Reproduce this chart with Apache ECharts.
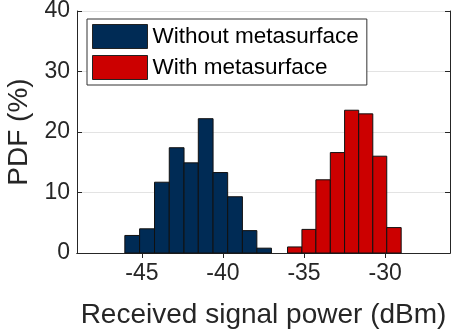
<!DOCTYPE html>
<html>
<head>
<meta charset="utf-8">
<script src="https://cdn.jsdelivr.net/npm/echarts@6/dist/echarts.min.js"></script>
<style>
  html, body { margin: 0; padding: 0; background: #fff; }
  #chart { width: 455px; height: 331px; }
</style>
</head>
<body>
<div id="chart"></div>
<script>
// bin edges (dBm) and PDF values (%)
var blueEdges = [-46.05, -45.14, -44.22, -43.31, -42.40, -41.52, -40.61, -39.71, -38.80, -37.91, -37.01];
var blueValues = [2.9, 4.0, 11.7, 17.4, 14.9, 22.2, 13.3, 9.3, 3.7, 0.8];
var redEdges = [-36.02, -35.13, -34.27, -33.38, -32.50, -31.63, -30.76, -29.90, -29.01];
var redValues = [1.0, 3.9, 12.1, 16.6, 23.6, 23.0, 16.0, 4.2];
var xTicks = [-45, -40, -35, -30];
var seriesNames = ['Without metasurface', 'With metasurface'];

var textColor = '#262626';
var font = 'Liberation Sans';

function toBins(edges, values) {
  var out = [];
  for (var i = 0; i < values.length; i++) {
    out.push([edges[i], edges[i + 1], values[i]]);
  }
  return out;
}

function renderBin(params, api) {
  var p0 = api.coord([api.value(0), api.value(2)]);
  var p1 = api.coord([api.value(1), 0]);
  return {
    type: 'rect',
    shape: { x: p0[0], y: p0[1], width: p1[0] - p0[0], height: p1[1] - p0[1] },
    style: api.style({ stroke: '#111', lineWidth: 1 })
  };
}

var chart = echarts.init(document.getElementById('chart'), null, { renderer: 'canvas' });

var option = {
  animation: false,
  textStyle: { fontFamily: font, color: textColor },
  grid: { left: 77, right: 5, top: 11, bottom: 78, outerBoundsMode: 'none', containLabel: false },
  legend: {
    left: 87, top: 19,
    orient: 'vertical',
    itemWidth: 55, itemHeight: 24, itemGap: 6,
    padding: [5, 8, 5, 5],
    backgroundColor: '#fff',
    borderColor: '#333', borderWidth: 1,
    borderRadius: 0,
    icon: 'rect',
    itemStyle: { borderColor: '#222', borderWidth: 1 },
    textStyle: { fontSize: 22.5, color: '#000', fontFamily: font },
    data: seriesNames
  },
  xAxis: [{
    type: 'value', min: -49, max: -26,
    name: 'Received signal power (dBm)',
    nameLocation: 'middle', nameGap: 48,
    nameTextStyle: { fontSize: 28, color: textColor },
    axisLine: { show: true, lineStyle: { color: textColor, width: 1 } },
    axisTick: { show: true, inside: true, length: 5, customValues: xTicks, lineStyle: { color: textColor } },
    axisLabel: { fontSize: 23, color: textColor, margin: 9, customValues: xTicks },
    splitLine: { show: false }
  }, {
    type: 'value', min: -49, max: -26, position: 'top',
    axisLine: { show: true, lineStyle: { color: textColor, width: 1 } },
    axisTick: { show: true, inside: true, length: 5, customValues: xTicks, lineStyle: { color: textColor } },
    axisLabel: { show: false },
    splitLine: { show: false }
  }],
  yAxis: [{
    type: 'value', min: 0, max: 40, interval: 10,
    name: 'PDF (%)',
    nameLocation: 'middle', nameGap: 42,
    nameTextStyle: { fontSize: 28, color: textColor },
    axisLine: { show: true, lineStyle: { color: textColor, width: 1 } },
    axisTick: { show: true, inside: true, length: 5, lineStyle: { color: textColor } },
    axisLabel: { fontSize: 23, color: textColor, margin: 7 },
    splitLine: { show: true, lineStyle: { color: '#e3e3e3', width: 1 } }
  }, {
    type: 'value', min: 0, max: 40, interval: 10, position: 'right',
    axisLine: { show: true, lineStyle: { color: textColor, width: 1 } },
    axisTick: { show: true, inside: true, length: 5, lineStyle: { color: textColor } },
    axisLabel: { show: false },
    splitLine: { show: false }
  }],
  series: [{
    name: seriesNames[0],
    type: 'custom',
    renderItem: renderBin,
    itemStyle: { color: '#002b55' },
    encode: { x: [0, 1], y: 2 },
    data: toBins(blueEdges, blueValues)
  }, {
    name: seriesNames[1],
    type: 'custom',
    renderItem: renderBin,
    itemStyle: { color: '#cc0000' },
    encode: { x: [0, 1], y: 2 },
    data: toBins(redEdges, redValues)
  }]
};

chart.setOption(option);
</script>
</body>
</html>
